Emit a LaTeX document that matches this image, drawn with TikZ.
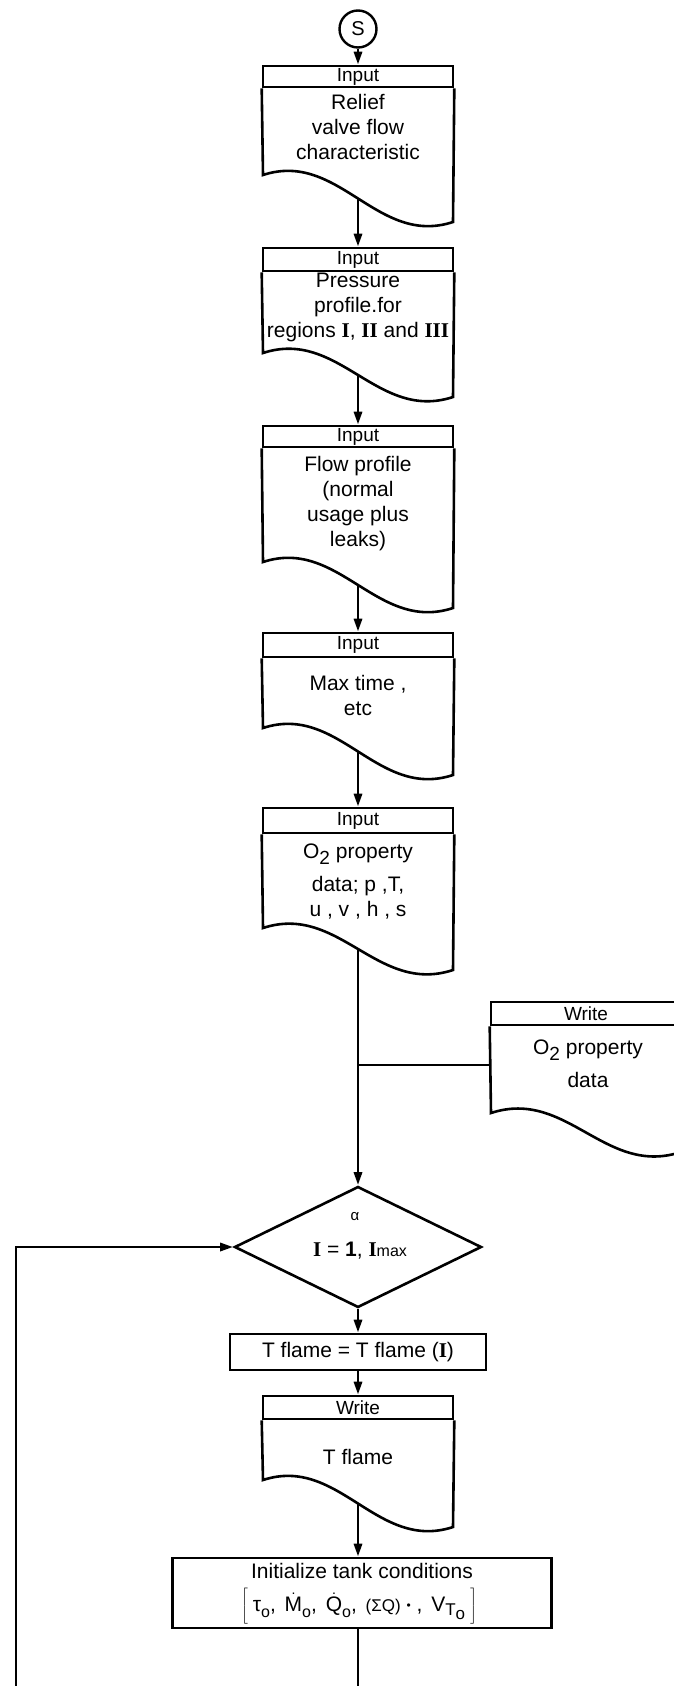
\documentclass[tikz,border=0pt]{standalone}
\usepackage{fontspec}
\setmainfont{Liberation Sans}
\newfontfamily\rmnum{Liberation Serif}
\usetikzlibrary{arrows.meta,shapes.geometric}
\newcommand\dotacc[1]{\ooalign{#1\cr\hidewidth\raisebox{0.78em}{\fontsize{14}{14}\selectfont .}\hidewidth\cr}}
\newcommand\Otwo{O\raisebox{-0.5ex}{\fontsize{19}{19}\selectfont 2}}
\newcommand\sublow[1]{\raisebox{-0.55ex}{\fontsize{16}{16}\selectfont #1}}
\tikzset{
  box/.style={draw, line width=2.6pt, rectangle, inner sep=0pt, font=\fontsize{21}{25}\selectfont},
  hdr/.style={box, font=\fontsize{19}{22}\selectfont},
  body/.style={align=center, font=\fontsize{21}{25}\selectfont, inner sep=0pt},
  conn/.style={line width=2.9pt, -{Triangle[length=13pt,width=8pt]}},
  plainconn/.style={line width=2.9pt},
  thinconn/.style={line width=1.4pt},
  wave/.style={line width=2.6pt, line join=miter},
}
% #1 name, #2 cx, #3 ytop, #4 yheader, #5 yleft bottom, #6 yright bottom, #7 header text
\newcommand\docbox[7]{%
  \pgfmathsetmacro\xl{#2-95}\pgfmathsetmacro\xr{#2+95}%
  \pgfmathsetmacro\ym{(#5+#6)/2}%
  \pgfmathsetmacro\ca{#2-19}\pgfmathsetmacro\cb{#2+19}%
  \pgfmathsetmacro\ya{#5-25}\pgfmathsetmacro\yb{#6+25}%
  \pgfmathsetmacro\yc{(#3+#4)/2}%
  \node[hdr, minimum width=190pt, minimum height={#4pt-#3pt}] (#1) at (#2,\yc) {#7};
  \draw[wave] (#1.south west) -- (\xl,#5) .. controls (\ca,\ya) and (\cb,\yb) .. (\xr,#6) -- (#1.south east);
  \coordinate (#1-out) at (#2,\ym);
}
\begin{document}
\begin{tikzpicture}[x=1pt,y=-1pt]
\useasboundingbox (0,0) rectangle (674,1686);

% start connector
\node[draw, circle, line width=2.4pt, minimum size=37pt, inner sep=0pt, font=\fontsize{20}{22}\selectfont] (s) at (358,29) {S};

% input boxes
\docbox{b1}{358}{66}{87}{175}{222}{Input}
\node[body] (b1t) at (358,127) {Relief\\valve flow\\characteristic};

\docbox{b2}{358}{248}{271}{353}{397}{Input}
\node[body] (b2t) at (358,307) {Pressure\\profile.for\\regions {\rmnum\bfseries I}, {\rmnum\bfseries II} and {\rmnum\bfseries III}};

\docbox{b3}{358}{426}{447}{562}{608}{Input}
\node[body] (b3t) at (358,504) {Flow profile\\(normal\\usage plus\\leaks)};

\docbox{b4}{358}{633}{657}{728}{775}{Input}
\node[body] (b4t) at (358,695) {Max time ,\\etc};

\docbox{b5}{358}{808}{833}{928}{970}{Input}
\node[body] (b5t) at (358,882) {\Otwo\ property\\[8pt]data; p ,T,\\u , v , h , s};

% write O2 property data (cut by page edge)
\begin{scope}
\clip (0,0) rectangle (674,1686);
\docbox{w1}{586}{1002}{1025}{1113}{1152}{Write}
\end{scope}
\node[body] (w1t) at (588,1064) {\Otwo\ property\\[8pt]data};
\coordinate (jw) at (491,1065);

% decision
\node[draw, diamond, line width=2.6pt, minimum width=247pt, minimum height=121pt, inner sep=0pt] (d) at (358,1247) {};
\node[body, font=\fontsize{15}{16}\selectfont] (dal) at (355,1217) {α};
\node[body] (dtx) at (360,1251) {{\rmnum\bfseries I} = \textbf{1}, {\rmnum\bfseries I}{\fontsize{16}{18}\selectfont max}};

% T flame assignment
\node[box, minimum width=256pt, minimum height=36pt] (tf) at (358,1352) {T flame = T flame ({\rmnum\bfseries I})};

% write T flame
\docbox{wt}{358}{1396}{1419}{1480}{1527}{Write}
\node[body] (wtt) at (358,1457) {T flame};

% initialize
\node[box, minimum width=379pt, minimum height=70pt] (init) at (362,1593) {};
\node[body] (init1) at (362,1571) {Initialize tank conditions};
\node[body] (init2) at (359,1606) {$\left[\vrule height 20pt depth 12pt width 0pt\right.$\hspace{4pt}τ\sublow{o}, \hspace{3pt}\dotacc{M}\sublow{o}, \hspace{3pt}\dotacc{Q}\sublow{o}, \hspace{3pt}{\fontsize{17}{20}\selectfont(ΣQ)} \raisebox{0.15ex}{\fontsize{12}{12}\selectfont •} , \hspace{3pt}V\raisebox{-0.35ex}{\fontsize{17}{17}\selectfont T\raisebox{-0.45ex}{o}}\hspace{4pt}$\left.\vrule height 20pt depth 12pt width 0pt\right]$};

\coordinate (endA) at (358,1686);
\coordinate (endB) at (16,1686);

% connectors
\draw[conn] (s.south) -- (b1.north);
\draw[conn] (b1-out) -- (b2.north);
\draw[conn] (b2-out) -- (b3.north);
\draw[conn] (b3-out) -- (b4.north);
\draw[conn] (b4-out) -- (b5.north);
\draw[conn] (b5-out) -- (d.north);
\draw[thinconn] (jw) -- (jw -| b5-out);
\draw[conn] (d.south) -- (tf.north);
\draw[conn] (tf.south) -- (wt.north);
\draw[conn] (wt-out) -- (wt-out |- init.north);
\draw[plainconn] (wt-out |- init.south) -- (endA);
\draw[conn] (endB) |- (d.west);
\end{tikzpicture}
\end{document}
